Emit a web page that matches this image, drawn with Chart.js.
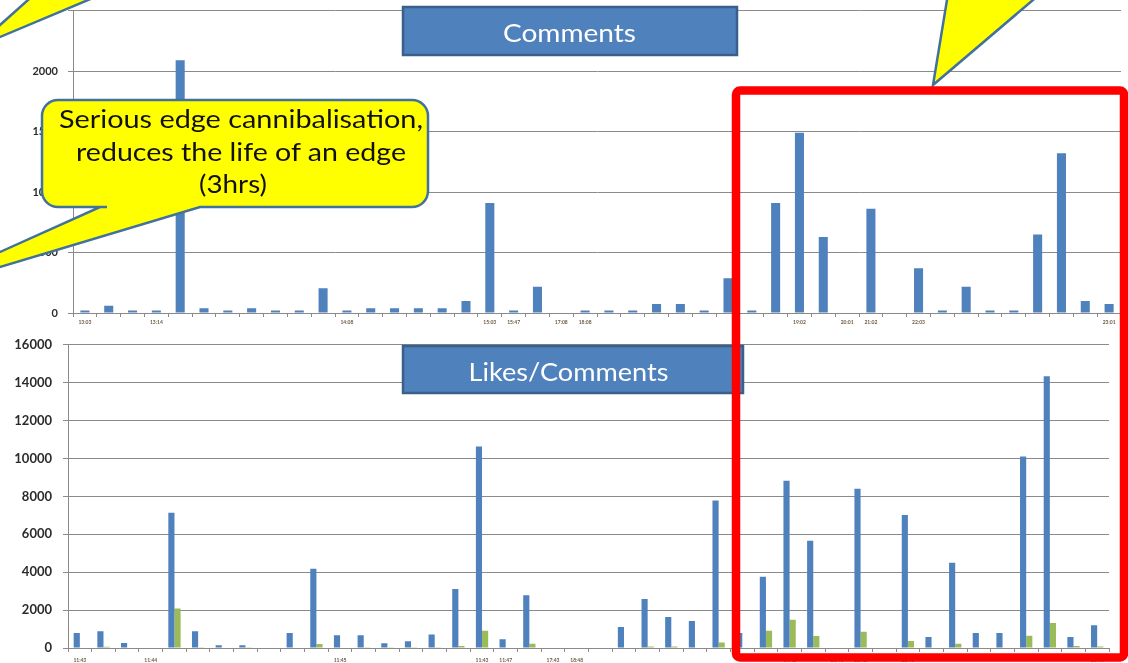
<!DOCTYPE html>
<html>
<head>
<meta charset="utf-8">
<script src="https://cdn.jsdelivr.net/npm/chart.js@4.4.0/dist/chart.umd.min.js"></script>
<style>
  html, body { margin: 0; padding: 0; background: #fff; overflow: hidden; }
  body { width: 1128px; height: 663px; position: relative; }
  .wrap { position: absolute; left: 0; width: 1128px; }
  #topWrap { top: -6px; height: 346px; }
  #bottomWrap { top: 326px; height: 349px; }
  #overlay { position: absolute; left: 0; top: 0; pointer-events: none; }
</style>
</head>
<body>
<div class="wrap" id="topWrap"><canvas id="commentsChart"></canvas></div>
<div class="wrap" id="bottomWrap"><canvas id="likesChart"></canvas></div>

<svg id="overlay" width="1128" height="663" xmlns="http://www.w3.org/2000/svg">
  <!-- boites de titre -->
  <rect x="403" y="7" width="334" height="48" fill="#4F81BD" stroke="#3A5F8B" stroke-width="2.5"/>
  <text x="569.5" y="42" fill="#fff" font-family="Lato" font-size="25" text-anchor="middle" textLength="133" lengthAdjust="spacingAndGlyphs">Comments</text>
  <rect x="403" y="346" width="340" height="47" fill="#4F81BD" stroke="#3A5F8B" stroke-width="2.5"/>
  <text x="568.5" y="381" fill="#fff" font-family="Lato" font-size="25" text-anchor="middle" textLength="200" lengthAdjust="spacingAndGlyphs">Likes/Comments</text>

  <!-- bulles jaunes -->
  <polygon points="33.6,-5 100,-5 -10,41.2 -10,33.9" fill="#FFFF00" stroke="#41719C" stroke-width="2.5"/>
  <polygon points="947.8,-5 1038.9,-5 933,85" fill="#FFFF00" stroke="#41719C" stroke-width="2.5"/>
  <path d="M58,100 H412 A16,16 0 0 1 428,116 V191 A16,16 0 0 1 412,207 H200 L-10,270 L-10,256.5 L100,207 L107,207 H58 A16,16 0 0 1 42,191 V116 A16,16 0 0 1 58,100 Z"
        fill="#FFFF00" stroke="#41719C" stroke-width="2.5"/>
  <g font-family="Lato" font-size="25" fill="#111" text-anchor="middle">
    <text x="241" y="128" textLength="364" lengthAdjust="spacingAndGlyphs">Serious edge cannibalisation,</text>
    <text x="241" y="161" textLength="330" lengthAdjust="spacingAndGlyphs">reduces the life of an edge</text>
    <text x="233" y="193" textLength="68" lengthAdjust="spacingAndGlyphs">(3hrs)</text>
  </g>

  <!-- cadre rouge -->
  <rect x="736" y="90.5" width="388" height="567" rx="4" fill="none" stroke="#FF0000" stroke-width="8.5"/>
</svg>

<script>
// Libellés de l'axe des x (heures), la plupart vides
const topLabels = [
    '13:03', '', '', '13:14', '', '', '', '', '', '',
    '', '14:08', '', '', '', '', '', '15:03', '15:47', '',
    '17:08', '18:08', '', '', '', '', '', '', '', '',
    '19:02', '', '20:01', '21:02', '', '22:03', '', '', '', '',
    '', '', '', '23:01'
];
const bottomLabels = [
    '11:43', '', '', '11:44', '', '', '', '', '', '',
    '', '11:45', '', '', '', '', '', '11:43', '11:47', '',
    '17:43', '18:48', '', '', '', '', '', '', '', '',
    '19:42', '', '20:41', '21:42', '', '22:43', '', '', '', '',
    '', '', '', '23:41'
];

// Nombre de commentaires par créneau
const comments = [
    20, 60, 20, 20, 2090, 40, 20, 40, 20, 20,
    205, 20, 40, 40, 40, 40, 100, 910, 20, 218,
    0, 20, 20, 20, 74, 74, 20, 287, 20, 910,
    1490, 628, 0, 861, 0, 369, 20, 218, 20, 20,
    648, 1320, 100, 74
];

// Nombre de likes par créneau
const likes = [
    790, 880, 265, 0, 7140, 880, 140, 140, 0, 790,
    4180, 670, 670, 250, 350, 710, 3120, 10630, 460, 2790,
    0, 0, 0, 1110, 2590, 1640, 1430, 7780, 790, 3760,
    8830, 5660, 0, 8410, 0, 7020, 580, 4500, 790, 790,
    10100, 14340, 580, 1200
];

const topTicks = [0, 500, 1000, 1500, 2000, 2500];
const bottomTicks = [0, 2000, 4000, 6000, 8000, 10000, 12000, 14000, 16000];

const gridGrey = '#8a8a8a';

function yAxis(ticks, width, fontSize, pad) {
    return {
        min: ticks[0],
        max: ticks[ticks.length - 1],
        afterFit: (scale) => { scale.width = width; },
        afterBuildTicks: (scale) => { scale.ticks = ticks.map(v => ({ value: v })); },
        ticks: {
            padding: pad,
            color: '#2b2b2b',
            font: { family: 'Lato', size: fontSize, weight: 'bold' },
            callback: (v) => String(v) // pas de séparateur de milliers
        },
        grid: { color: gridGrey, lineWidth: 1, tickLength: 5 },
        border: { color: gridGrey, width: 1 }
    };
}

function xAxis(height, pad) {
    return {
        afterFit: (scale) => { scale.height = height; },
        ticks: {
            autoSkip: false,
            maxRotation: 0,
            minRotation: 0,
            padding: pad,
            color: '#6b5a45',
            font: { family: 'Lato', size: 5, weight: 'bold' }
        },
        grid: { drawOnChartArea: false, drawTicks: true, tickLength: 4, color: gridGrey },
        border: { color: gridGrey, width: 1 }
    };
}

/**
 * Graphique du haut : commentaires
 */
new Chart(document.getElementById('commentsChart'), {
    type: 'bar',
    data: {
        labels: topLabels,
        datasets: [{
            label: 'Comments',
            data: comments,
            backgroundColor: '#4F81BD',
            barPercentage: 0.38,
            categoryPercentage: 1
        }]
    },
    options: {
        responsive: true,
        maintainAspectRatio: false,
        animation: false,
        layout: { padding: { top: 3, right: 7, left: 0, bottom: 0 } },
        plugins: { legend: { display: false }, tooltip: { enabled: false } },
        scales: {
            x: xAxis(27, 2),
            y: yAxis(topTicks, 73, 11, 10)
        }
    }
});

/**
 * Graphique du bas : likes / commentaires
 */
new Chart(document.getElementById('likesChart'), {
    type: 'bar',
    data: {
        labels: bottomLabels,
        datasets: [{
            label: 'Likes',
            data: likes,
            backgroundColor: '#4F81BD',
            barPercentage: 1,
            categoryPercentage: 0.52
        }, {
            label: 'Comments',
            data: comments,
            backgroundColor: '#9BBB59',
            barPercentage: 1,
            categoryPercentage: 0.52
        }]
    },
    options: {
        responsive: true,
        maintainAspectRatio: false,
        animation: false,
        layout: { padding: { top: 11, right: 19, left: 0, bottom: 0 } },
        plugins: { legend: { display: false }, tooltip: { enabled: false } },
        scales: {
            x: xAxis(27, 5),
            y: yAxis(bottomTicks, 68, 13, 11)
        }
    }
});
</script>
</body>
</html>
